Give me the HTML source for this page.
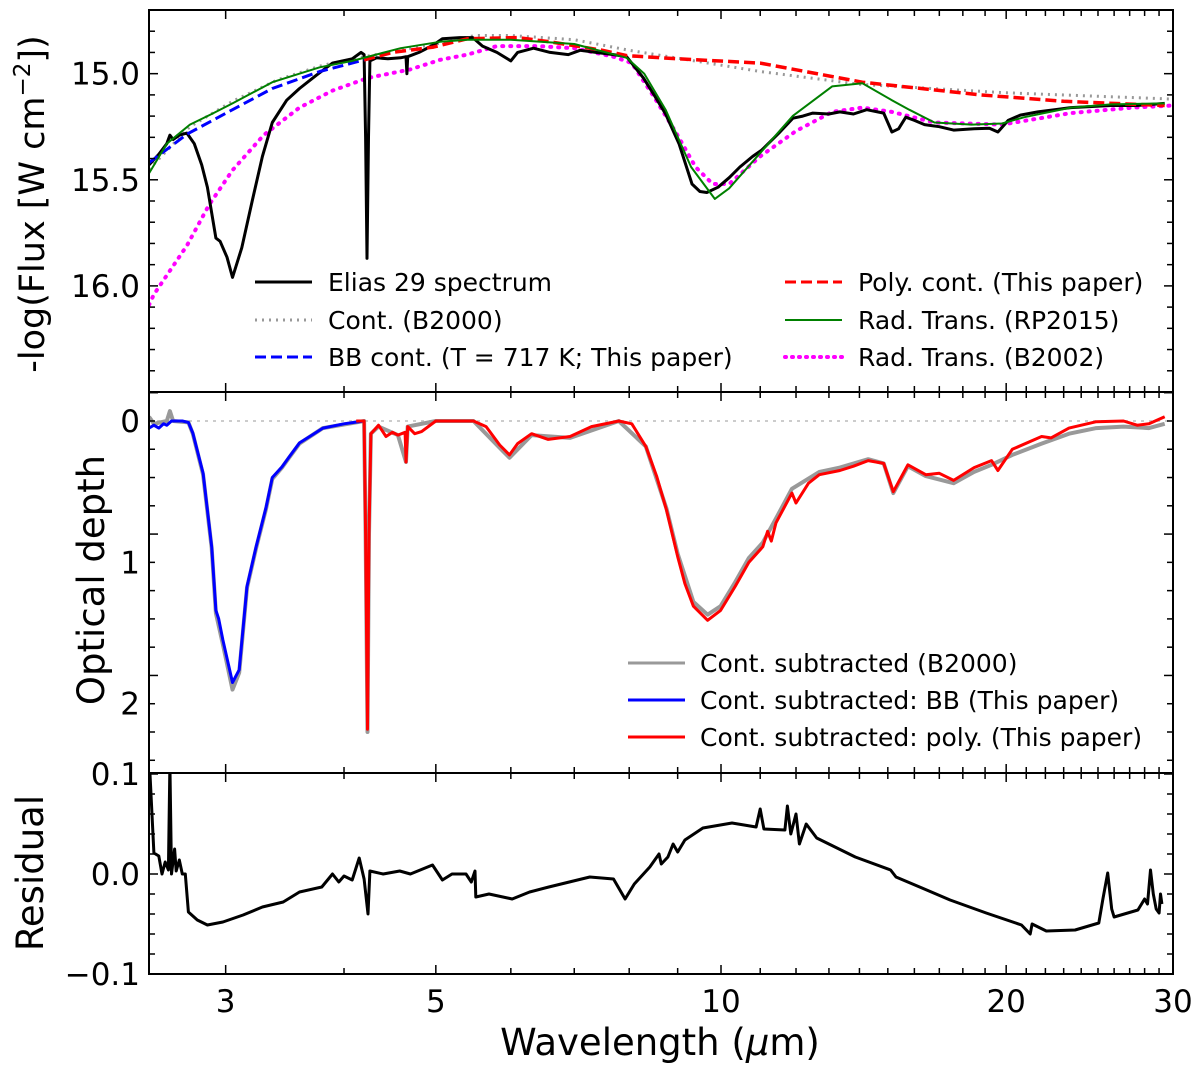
<!DOCTYPE html>
<html><head><meta charset="utf-8"><style>
body{margin:0;background:#fff}
svg text{font-family:"DejaVu Sans","Liberation Sans",sans-serif;fill:#000}
</style></head><body>
<svg id="chart" width="1200" height="1069" viewBox="0 0 1200 1069" xmlns="http://www.w3.org/2000/svg">
<defs>
<clipPath id="cTop"><rect x="149" y="10" width="1024" height="382"/></clipPath>
<clipPath id="cMid"><rect x="149" y="392" width="1024" height="381"/></clipPath>
<clipPath id="cBot"><rect x="149" y="773" width="1024" height="201"/></clipPath>
</defs>
<g id="gTop" clip-path="url(#cTop)"></g>
<g id="gMid" clip-path="url(#cMid)"></g>
<g id="gBot" clip-path="url(#cBot)"></g>
<g id="gAxes"></g>
<text x="0" y="0" font-size="35" text-anchor="middle" transform="translate(44,204) rotate(-90)">-log(Flux [W cm<tspan font-size="23" dy="-14">−2</tspan><tspan dy="14">])</tspan></text>
<text x="0" y="0" font-size="37" text-anchor="middle" transform="translate(104,580) rotate(-90)">Optical depth</text>
<text x="0" y="0" font-size="37" text-anchor="middle" transform="translate(43,873) rotate(-90)">Residual</text>
<text x="660" y="1055" font-size="37" text-anchor="middle">Wavelength (<tspan font-style="italic">μ</tspan>m)</text>
<g font-size="25">
<line x1="255" y1="282" x2="312" y2="282" stroke="#000" stroke-width="3"/><text x="328" y="291">Elias 29 spectrum</text>
<line x1="255" y1="320" x2="312" y2="320" stroke="#999" stroke-width="3" stroke-dasharray="2,5"/><text x="328" y="329">Cont. (B2000)</text>
<line x1="255" y1="357" x2="312" y2="357" stroke="#0000ff" stroke-width="3" stroke-dasharray="11,5"/><text x="328" y="366">BB cont. (T = 717 K; This paper)</text>
<line x1="785" y1="282" x2="842" y2="282" stroke="#ff0000" stroke-width="3" stroke-dasharray="11,5"/><text x="858" y="291">Poly. cont. (This paper)</text>
<line x1="785" y1="320" x2="842" y2="320" stroke="#008000" stroke-width="2"/><text x="858" y="329">Rad. Trans. (RP2015)</text>
<line x1="785" y1="357" x2="842" y2="357" stroke="#ff00ff" stroke-width="4" stroke-dasharray="1,6" stroke-linecap="round"/><text x="858" y="366">Rad. Trans. (B2002)</text>
</g>
<g font-size="25">
<line x1="628" y1="663" x2="685" y2="663" stroke="#999" stroke-width="3"/><text x="700" y="672">Cont. subtracted (B2000)</text>
<line x1="628" y1="700" x2="685" y2="700" stroke="#0000ff" stroke-width="3"/><text x="700" y="709">Cont. subtracted: BB (This paper)</text>
<line x1="628" y1="737" x2="685" y2="737" stroke="#ff0000" stroke-width="3"/><text x="700" y="746">Cont. subtracted: poly. (This paper)</text>
</g>
</svg>
<script>
const xTickLabels=[3,5,10,20,30];
const topTickLabels=["15.0","15.5","16.0"];
const midTickLabels=["0","1","2"];
const botTickLabels=["0.1","0.0","−0.1"];
const eliasSpectrum=[[2.49,15.43],[2.55,15.38],[2.6,15.33],[2.62,15.29],[2.64,15.31],[2.68,15.29],[2.73,15.28],[2.78,15.33],[2.83,15.43],[2.87,15.535],[2.93,15.775],[2.96,15.79],[3.01,15.865],[3.05,15.96],[3.08,15.9],[3.12,15.82],[3.2,15.6],[3.28,15.39],[3.36,15.23],[3.48,15.125],[3.59,15.07],[3.74,15.007],[3.89,14.95],[4.08,14.93],[4.17,14.9],[4.2,14.91],[4.215,15.3],[4.23,15.87],[4.245,15.3],[4.26,14.94],[4.33,14.925],[4.45,14.93],[4.59,14.925],[4.65,14.92],[4.66,15.0],[4.67,14.92],[4.8,14.9],[4.97,14.865],[5.08,14.835],[5.3,14.83],[5.47,14.83],[5.6,14.87],[5.8,14.9],[6.0,14.94],[6.1,14.9],[6.34,14.88],[6.6,14.9],[6.9,14.91],[7.1,14.89],[7.38,14.9],[7.7,14.91],[7.95,14.92],[8.28,15.02],[8.5,15.1],[8.74,15.19],[9.03,15.33],[9.32,15.52],[9.5,15.555],[9.66,15.56],[9.93,15.535],[10.2,15.49],[10.47,15.44],[10.8,15.39],[11.04,15.36],[11.51,15.28],[11.91,15.21],[12.2,15.2],[12.5,15.186],[13.0,15.19],[13.35,15.18],[13.8,15.19],[14.25,15.17],[14.85,15.186],[15.15,15.275],[15.4,15.26],[15.67,15.205],[16.0,15.22],[16.4,15.24],[17.0,15.25],[17.6,15.266],[18.5,15.26],[19.2,15.257],[19.6,15.275],[20.1,15.22],[20.7,15.195],[21.6,15.18],[22.5,15.17],[23.4,15.16],[24.5,15.155],[25.8,15.15],[27.5,15.15],[29.4,15.14]];
const contB2000=[[2.49,15.45],[2.75,15.25],[3.05,15.13],[3.4,15.03],[3.8,14.96],[4.2,14.92],[5.0,14.86],[5.5,14.82],[6.0,14.82],[7.0,14.84],[8.0,14.89],[11,14.99],[14,15.05],[20,15.09],[30,15.12]];
const radTransRP2015=[[2.49,15.47],[2.6,15.33],[2.75,15.24],[2.9,15.19],[3.05,15.14],[3.36,15.04],[3.77,14.97],[4.08,14.94],[4.59,14.88],[5.05,14.85],[5.4,14.84],[6.0,14.84],[7.0,14.86],[7.95,14.925],[8.3,15.0],[8.74,15.17],[9.3,15.44],[9.85,15.59],[10.2,15.54],[11.9,15.2],[13.1,15.06],[14.1,15.045],[15.15,15.125],[15.8,15.17],[16.8,15.23],[18.4,15.24],[19.8,15.235],[20.9,15.205],[23.4,15.16],[25.8,15.145],[29.4,15.14]];
const bbCont=[[2.49,15.42],[2.73,15.285],[3.05,15.17],[3.36,15.07],[3.77,14.99],[4.08,14.95],[4.2,14.935]];
const polyCont=[[4.2,14.935],[4.5,14.9],[4.97,14.875],[5.4,14.835],[6.1,14.83],[6.6,14.85],[7.5,14.89],[7.95,14.915],[9.0,14.93],[11.0,14.95],[14.1,15.04],[18.8,15.10],[23,15.13],[29.4,15.15]];
const radTransB2002=[[2.49,16.09],[2.52,16.04],[2.73,15.81],[2.88,15.62],[3.05,15.455],[3.29,15.29],[3.59,15.16],[3.89,15.08],[4.24,15.02],[4.7,14.98],[5.05,14.935],[5.4,14.91],[5.8,14.87],[6.4,14.87],[7.0,14.88],[7.7,14.92],[8.05,14.95],[8.5,15.11],[8.97,15.28],[9.4,15.44],[9.8,15.52],[10.2,15.52],[11.0,15.39],[12.0,15.27],[13.1,15.18],[14.1,15.16],[15.15,15.18],[16.8,15.23],[19.8,15.24],[23.4,15.186],[27.2,15.16],[30,15.15]];
const tauB2000=[[2.49,-0.03],[2.52,0.02],[2.6,0.0],[2.62,-0.07],[2.64,0.0],[2.74,0.01],[2.77,0.09],[2.84,0.38],[2.9,0.9],[2.93,1.36],[2.98,1.58],[3.05,1.9],[3.1,1.78],[3.16,1.18],[3.23,0.9],[3.31,0.62],[3.36,0.41],[3.44,0.33],[3.5,0.26],[3.59,0.16],[3.8,0.05],[4.2,0.0],[4.215,0.8],[4.235,2.2],[4.25,0.8],[4.27,0.09],[4.35,0.04],[4.56,0.1],[4.65,0.29],[4.67,0.04],[5.0,0.0],[5.48,0.0],[5.84,0.19],[5.98,0.26],[6.31,0.1],[6.93,0.12],[7.8,0.0],[8.33,0.18],[8.76,0.62],[9.0,0.94],[9.35,1.28],[9.68,1.37],[9.99,1.31],[10.35,1.14],[10.7,0.97],[11.07,0.86],[11.43,0.69],[11.88,0.48],[12.7,0.36],[13.35,0.33],[14.3,0.27],[14.85,0.3],[15.2,0.51],[15.75,0.32],[16.45,0.39],[17.6,0.44],[18.5,0.36],[19.3,0.31],[20.3,0.24],[21.8,0.16],[23.3,0.09],[24.9,0.05],[26.6,0.04],[28.3,0.05],[29.4,0.02]];
const tauBB=[[2.49,0.05],[2.52,0.03],[2.55,0.05],[2.58,0.02],[2.6,0.03],[2.63,0.0],[2.7,0.0],[2.74,0.01],[2.77,0.085],[2.84,0.37],[2.9,0.89],[2.93,1.34],[2.95,1.4],[2.98,1.55],[3.05,1.85],[3.1,1.76],[3.16,1.17],[3.23,0.89],[3.31,0.61],[3.36,0.40],[3.44,0.325],[3.5,0.255],[3.59,0.155],[3.7,0.1],[3.8,0.05],[4.0,0.02],[4.2,0.0]];
const tauPoly=[[4.12,0.0],[4.2,0.0],[4.215,0.8],[4.235,2.18],[4.25,0.8],[4.27,0.09],[4.35,0.03],[4.43,0.11],[4.5,0.08],[4.56,0.1],[4.64,0.08],[4.65,0.29],[4.67,0.04],[4.75,0.09],[4.83,0.075],[5.0,0.0],[5.48,0.0],[5.65,0.04],[5.84,0.17],[5.98,0.24],[6.1,0.16],[6.31,0.09],[6.57,0.13],[6.93,0.11],[7.3,0.04],[7.8,0.0],[8.05,0.02],[8.33,0.18],[8.55,0.39],[8.76,0.63],[9.0,0.96],[9.16,1.15],[9.35,1.31],[9.68,1.41],[9.99,1.34],[10.35,1.17],[10.7,1.0],[11.07,0.89],[11.2,0.78],[11.3,0.85],[11.43,0.72],[11.88,0.51],[12.0,0.58],[12.37,0.44],[12.7,0.38],[13.35,0.35],[13.8,0.32],[14.3,0.28],[14.85,0.30],[15.2,0.5],[15.75,0.31],[16.45,0.38],[17.0,0.37],[17.6,0.42],[18.5,0.33],[19.3,0.28],[19.6,0.35],[20.3,0.2],[21.8,0.11],[22.3,0.12],[23.3,0.05],[24.9,0.005],[26.6,0.0],[27.5,0.03],[28.3,0.02],[29.4,-0.03]];
const residual=[[2.49,0.12],[2.52,0.021],[2.55,0.018],[2.57,0.0],[2.59,0.012],[2.61,0.004],[2.62,0.11],[2.63,0.0],[2.65,0.025],[2.66,0.003],[2.68,0.014],[2.7,0.0],[2.72,0.0],[2.74,-0.038],[2.8,-0.046],[2.87,-0.051],[2.98,-0.048],[3.13,-0.041],[3.28,-0.033],[3.45,-0.028],[3.59,-0.018],[3.79,-0.013],[3.89,0.0],[3.95,-0.008],[4.0,-0.002],[4.08,-0.006],[4.15,0.016],[4.2,-0.005],[4.24,-0.04],[4.26,0.003],[4.4,0.0],[4.58,0.003],[4.7,0.0],[4.96,0.009],[5.08,-0.006],[5.2,0.0],[5.38,0.0],[5.45,-0.008],[5.5,0.003],[5.51,-0.023],[5.69,-0.02],[6.02,-0.025],[6.28,-0.018],[6.58,-0.013],[7.27,-0.003],[7.7,-0.005],[7.92,-0.025],[8.1,-0.01],[8.41,0.007],[8.6,0.02],[8.65,0.01],[8.79,0.017],[8.9,0.03],[9.0,0.022],[9.16,0.034],[9.57,0.046],[10.27,0.051],[10.89,0.047],[11.0,0.065],[11.1,0.045],[11.68,0.044],[11.75,0.068],[11.85,0.04],[12.0,0.06],[12.1,0.03],[12.3,0.05],[12.62,0.036],[13.86,0.017],[15.1,0.004],[15.3,-0.003],[16.3,-0.014],[17.45,-0.026],[19.05,-0.039],[20.76,-0.051],[21.2,-0.06],[21.3,-0.05],[22.05,-0.057],[23.65,-0.056],[25.05,-0.049],[25.3,-0.025],[25.6,0.001],[25.85,-0.035],[26.0,-0.043],[27.55,-0.036],[28.0,-0.025],[28.2,-0.03],[28.4,0.004],[28.6,-0.02],[28.8,-0.035],[29.0,-0.039],[29.1,-0.02],[29.2,-0.03]];

const NS="http://www.w3.org/2000/svg";
const L=149,R=1173,LMIN=Math.log10(2.49),LMAX=Math.log10(30);
function xs(l){return L+(Math.log10(l)-LMIN)/(LMAX-LMIN)*(R-L);}
function yTop(v){return 10+(v-14.7)/1.8*382;}
function yMid(t){return 392+(t+0.205)/2.695*381;}
function yBot(r){return 774+(0.1-r)/0.2*200;}
function mk(tag,attrs,parent){const e=document.createElementNS(NS,tag);for(const k in attrs)e.setAttribute(k,attrs[k]);parent.appendChild(e);return e;}
function line(data,ys,parent,stroke,w,dash,name,cap){
  const p=mk('polyline',{points:data.map(d=>xs(d[0]).toFixed(1)+','+ys(d[1]).toFixed(1)).join(' '),fill:'none',stroke:stroke,'stroke-width':w,'stroke-linejoin':'round','stroke-linecap':cap||'butt'},parent);
  if(dash)p.setAttribute('stroke-dasharray',dash);
  
  
}
const gT=document.getElementById('gTop'),gM=document.getElementById('gMid'),gB=document.getElementById('gBot'),gA=document.getElementById('gAxes');
line(contB2000,yTop,gT,'#999',3,'2,5','cont-b2000-line');
line(radTransB2002,yTop,gT,'#ff00ff',4,'1,7','rad-trans-b2002-line','round');
line(eliasSpectrum,yTop,gT,'#000',3,null,'elias29-spectrum-line');
line(bbCont,yTop,gT,'#0000ff',3,'11,5','bb-cont-line');
line(polyCont,yTop,gT,'#ff0000',3.5,'11,5','poly-cont-line');
line(radTransRP2015,yTop,gT,'#008000',2,null,'rad-trans-rp2015-line');
const zl=mk('line',{x1:L,x2:R,y1:yMid(0),y2:yMid(0),stroke:'#ccc','stroke-width':2,'stroke-dasharray':'3,5'},gM);


line(tauB2000,yMid,gM,'#999',4,null,'tau-b2000-line');
line(tauBB,yMid,gM,'#0000ff',3,null,'tau-bb-line');
line(tauPoly,yMid,gM,'#ff0000',3,null,'tau-poly-line');
line(residual,yBot,gB,'#000',3,null,'residual-line');

[[10,392],[392,773],[773,974]].forEach((f,i)=>{
  const r=mk('rect',{x:L,y:f[0],width:R-L,height:f[1]-f[0],fill:'none',stroke:'#000','stroke-width':2},gA);
  
  
});
const xt=[];for(let v=3;v<=9;v++)xt.push(v);for(let v=10;v<=30;v+=1)xt.push(v);
[[10,392],[392,773],[773,974]].forEach(f=>{
  xt.forEach(v=>{const x=xs(v);const len=(v===10||v===20||v===3||v===5||v===30)?9:6;
    mk('line',{x1:x,x2:x,y1:f[0],y2:f[0]+len,stroke:'#000','stroke-width':1.5},gA);
    mk('line',{x1:x,x2:x,y1:f[1],y2:f[1]-len,stroke:'#000','stroke-width':1.5},gA);});
});
xTickLabels.forEach(v=>{const t=mk('text',{x:xs(v),y:1012,'font-size':31,'text-anchor':'middle'},gA);t.textContent=v;
  
  });
function yTicks(min,max,step,majorEvery,ys,top,bot){
  const n=Math.round((max-min)/step);
  for(let i=0;i<=n;i++){const v=min+i*step;const y=ys(v);if(y<top-0.5||y>bot+0.5)continue;
    const len=(i%majorEvery===0)?9:6;
    mk('line',{x1:L,x2:L+len,y1:y,y2:y,stroke:'#000','stroke-width':1.5},gA);
    mk('line',{x1:R,x2:R-len,y1:y,y2:y,stroke:'#000','stroke-width':1.5},gA);}
}
yTicks(14.5,16.5,0.1,5,yTop,10,392);
yTicks(-0.2,2.6,0.2,5,yMid,392,773);
yTicks(-0.1,0.1,0.02,5,yBot,773,974);
function yLabels(labels,vals,ys,name){labels.forEach((s,i)=>{const t=mk('text',{x:140,y:ys(vals[i])+11,'font-size':31,'text-anchor':'end'},gA);t.textContent=s;
  
  });}
yLabels(topTickLabels,topTickLabels.map(Number),yTop,'flux-tick-label');
yLabels(midTickLabels,midTickLabels.map(Number),yMid,'optical-depth-tick-label');
yLabels(botTickLabels,[0.1,0,-0.1],yBot,'residual-tick-label');
</script>
</body></html>
